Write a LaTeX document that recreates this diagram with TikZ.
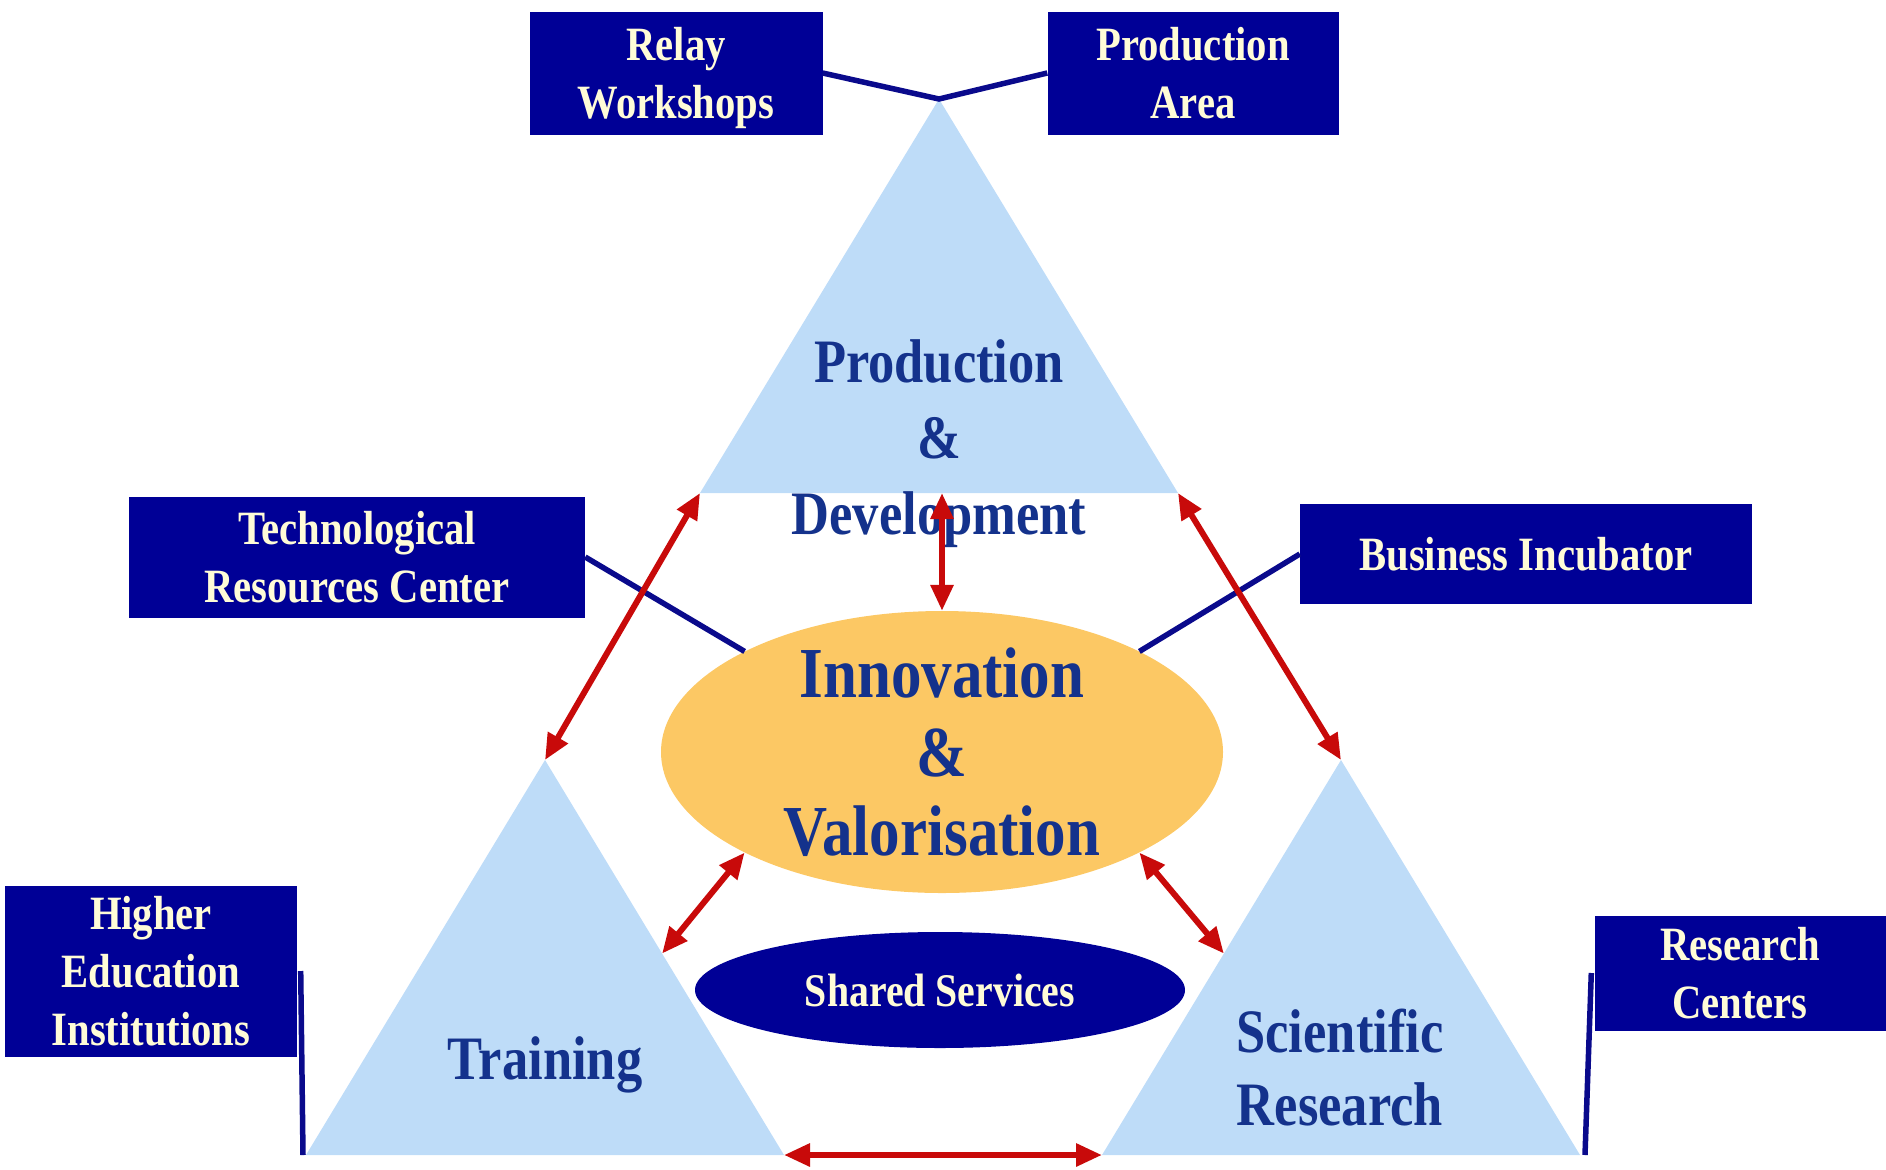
\documentclass[tikz,border=0pt]{standalone}
\usepackage{fontspec}
\setmainfont{Liberation Serif}
\newfontfamily\diagfont[FakeStretch=0.85]{Liberation Serif}
\usetikzlibrary{shapes.geometric, arrows.meta, calc}

\definecolor{boxblue}{RGB}{0,0,150}
\definecolor{triblue}{RGB}{190,220,248}
\definecolor{titleblue}{RGB}{20,50,140}
\definecolor{innoorange}{RGB}{252,200,100}
\definecolor{arrowred}{RGB}{200,10,10}
\definecolor{cream}{RGB}{255,252,215}
\definecolor{linkblue}{RGB}{10,10,140}

\begin{document}
\begin{tikzpicture}[x=1bp, y=-1bp,
  unit/.style={fill=boxblue, text=cream, inner sep=0pt, text depth=0pt, align=center, font=\diagfont\bfseries\fontsize{48}{58}\selectfont},
  tri/.style={fill=triblue},
  pillar/.style={text=titleblue, text depth=0pt, align=center, font=\diagfont\bfseries\fontsize{62}{76}\selectfont},
  link/.style={draw=linkblue, line width=5.5bp},
  flow/.style={draw=arrowred, line width=6bp, {Triangle[length=26bp,width=22bp]}-{Triangle[length=26bp,width=22bp]}}]
  \useasboundingbox (0,0) rectangle (1886,1169);

  % Triangles: production, training, research
  \coordinate (pd) at (939,99);
  \fill[tri] (pd) -- ++(-239,394) coordinate (pd-left) -- ++(478,0) coordinate (pd-right) -- cycle;
  \coordinate (tr) at (545,760);
  \fill[tri] (tr) -- ++(-239,395) coordinate (tr-left) -- ++(478,0) coordinate (tr-right) -- cycle;
  \coordinate (sr) at (1341,760);
  \fill[tri] (sr) -- ++(-239,395) coordinate (sr-left) -- ++(478,0) coordinate (sr-right) -- cycle;

  % Centre: innovation and shared services
  \node[ellipse, fill=innoorange, minimum width=562bp, minimum height=282bp] (inno) at (942,752) {};
  \node[text=titleblue, align=center, font=\diagfont\bfseries\fontsize{72}{79}\selectfont] (innotext) at (942,752) {Innovation\\\&\\Valorisation};
  \node[ellipse, fill=boxblue, text=cream, inner sep=0pt, minimum width=490bp, minimum height=116bp, font=\diagfont\bfseries\fontsize{47}{56}\selectfont] (shared) at (940,990) {Shared Services};

  % Triangle labels
  \node[pillar] (pdtext) at (939,437) {Production\\\&\\Development};
  \node[pillar] (trtext) at (545,1058) {Training};
  \node[pillar, font=\diagfont\bfseries\fontsize{62}{73}\selectfont] (srtext) at (1340,1067) {Scientific\\Research};

  % Boxes
  \node[unit, minimum width=293bp, minimum height=123bp] (relay) at (676,73) {Relay\\Workshops};
  \node[unit, minimum width=291bp, minimum height=123bp] (prodarea) at (1193,73) {Production\\Area};
  \node[unit, minimum width=456bp, minimum height=121bp] (trc) at (357,557) {Technological\\Resources Center};
  \node[unit, minimum width=452bp, minimum height=100bp] (bi) at (1526,554) {Business Incubator};
  \node[unit, minimum width=291bp, minimum height=171bp] (hei) at (151,971) {Higher\\Education\\Institutions};
  \node[unit, minimum width=291bp, minimum height=115bp] (rc) at (1740,973) {Research\\Centers};

  % Links
  \draw[link] (relay.east) -- (pd) -- (prodarea.west);
  \draw[link] (trc.east) -- (inno.153);
  \draw[link] (bi.west) -- (inno.27);
  \draw[link] ([xshift=4bp]hei.east) -- ([xshift=-3bp]tr-left);
  \draw[link] ([xshift=-3bp]rc.west) -- ([xshift=5bp]sr-right);

  % Arrows
  \draw[flow] (pd-left) -- (tr);
  \draw[flow] (pd-right) -- (sr);
  \draw[flow] (inno.north |- pd-left) -- (inno.north);
  \draw[flow] (inno.207) -- ($(tr)!0.49!(tr-right)$);
  \draw[flow] (inno.333) -- ($(sr)!0.49!(sr-left)$);
  \draw[flow] (tr-right) -- (sr-left);
\end{tikzpicture}
\end{document}
